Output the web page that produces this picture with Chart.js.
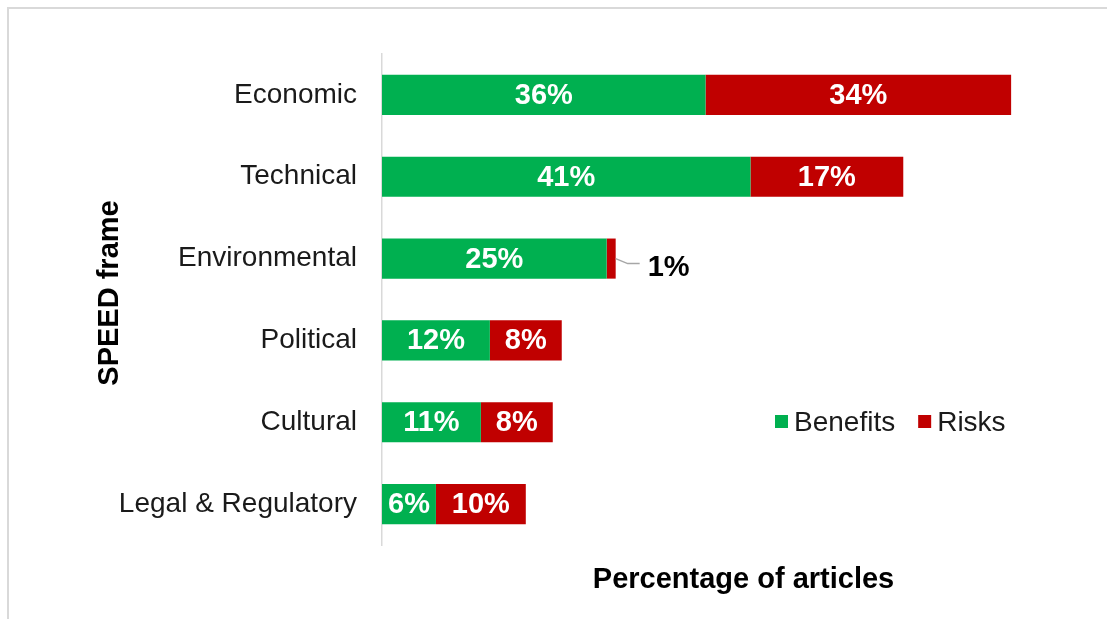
<!DOCTYPE html>
<html>
<head>
<meta charset="utf-8">
<script src="https://cdn.jsdelivr.net/npm/chart.js@4.4.1/dist/chart.umd.min.js"></script>
<style>
  html, body { margin: 0; padding: 0; background: #ffffff; }
  #wrap { position: relative; width: 1107px; height: 619px; overflow: hidden; }
  #frame { position: absolute; left: 7px; top: 7px; width: 1200px; height: 700px;
           border-top: 2px solid #d9d9d9; border-left: 2px solid #d9d9d9; box-sizing: border-box; }
  canvas { position: absolute; left: 0; top: 0; }
</style>
</head>
<body>
<div id="wrap">
  <div id="frame"></div>
  <canvas id="c" width="1107" height="619"></canvas>
</div>
<script>
const categories = ['Economic', 'Technical', 'Environmental', 'Political', 'Cultural', 'Legal & Regulatory'];
const benefits = [36, 41, 25, 12, 11, 6];
const risks = [34, 17, 1, 8, 8, 10];
const seriesNames = ['Benefits', 'Risks'];
const seriesColors = ['#00B050', '#C00000'];
const xTitle = 'Percentage of articles';
const yTitle = 'SPEED frame';

const FONT = "'Liberation Sans', Arial, sans-serif";

const labelPlugin = {
  id: 'labels',
  afterDatasetsDraw(chart) {
    const ctx = chart.ctx;
    ctx.save();
    ctx.font = 'bold 29px ' + FONT;
    ctx.textBaseline = 'middle';
    chart.data.datasets.forEach((ds, di) => {
      const meta = chart.getDatasetMeta(di);
      meta.data.forEach((bar, i) => {
        const v = ds.data[i];
        const txt = v + '%';
        const w = Math.abs(bar.x - bar.base);
        const tw = ctx.measureText(txt).width;
        if (w >= tw) {
          ctx.fillStyle = '#ffffff';
          ctx.textAlign = 'center';
          ctx.fillText(txt, (bar.x + bar.base) / 2, bar.y + 1);
        } else {
          ctx.strokeStyle = '#a6a6a6';
          ctx.lineWidth = 1.5;
          ctx.beginPath();
          ctx.moveTo(bar.x, bar.y);
          ctx.lineTo(bar.x + 12, bar.y + 5);
          ctx.lineTo(bar.x + 24, bar.y + 5);
          ctx.stroke();
          ctx.fillStyle = '#000000';
          ctx.textAlign = 'left';
          ctx.fillText(txt, bar.x + 32, bar.y + 9);
        }
      });
    });
    ctx.restore();
  },
  afterDraw(chart) {
    const ctx = chart.ctx;
    const ca = chart.chartArea;
    ctx.save();
    ctx.fillStyle = '#000000';
    ctx.font = 'bold 29px ' + FONT;
    ctx.textAlign = 'center';
    ctx.textBaseline = 'middle';
    ctx.fillText(xTitle, (ca.left + ca.right) / 2 + 2, 580);
    ctx.translate(110, 293);
    ctx.rotate(-Math.PI / 2);
    ctx.fillText(yTitle, 0, 0);
    ctx.restore();

    ctx.save();
    ctx.font = '28px ' + FONT;
    ctx.textBaseline = 'middle';
    ctx.textAlign = 'left';
    let x = 775;
    const y = 422;
    chart.data.datasets.forEach((ds) => {
      ctx.fillStyle = ds.backgroundColor;
      ctx.fillRect(x, y - 7, 13, 13);
      ctx.fillStyle = '#1a1a1a';
      ctx.fillText(ds.label, x + 19, y + 1);
      x += 19 + ctx.measureText(ds.label).width + 23;
    });
    ctx.restore();
  }
};

new Chart(document.getElementById('c'), {
  type: 'bar',
  data: {
    labels: categories,
    datasets: [
      { label: seriesNames[0], data: benefits, backgroundColor: seriesColors[0], borderWidth: 0 },
      { label: seriesNames[1], data: risks, backgroundColor: seriesColors[1], borderWidth: 0 }
    ]
  },
  options: {
    indexAxis: 'y',
    responsive: false,
    animation: false,
    devicePixelRatio: 1,
    layout: { padding: { top: 54, right: 6, left: 0, bottom: 0 } },
    plugins: { legend: { display: false }, tooltip: { enabled: false } },
    datasets: { bar: { barPercentage: 0.49, categoryPercentage: 1 } },
    scales: {
      x: {
        stacked: true, min: 0, max: 80,
        grid: { display: false, drawTicks: false },
        border: { display: false },
        ticks: { display: false },
        afterFit(scale) { scale.height = 74; }
      },
      y: {
        stacked: true,
        grid: { display: false, drawTicks: false },
        border: { display: true, color: '#d9d9d9', width: 1.5 },
        ticks: { color: '#1a1a1a', font: { family: FONT, size: 28 }, padding: 25 },
        afterFit(scale) { scale.width = 382; }
      }
    }
  },
  plugins: [labelPlugin]
});
</script>
</body>
</html>
